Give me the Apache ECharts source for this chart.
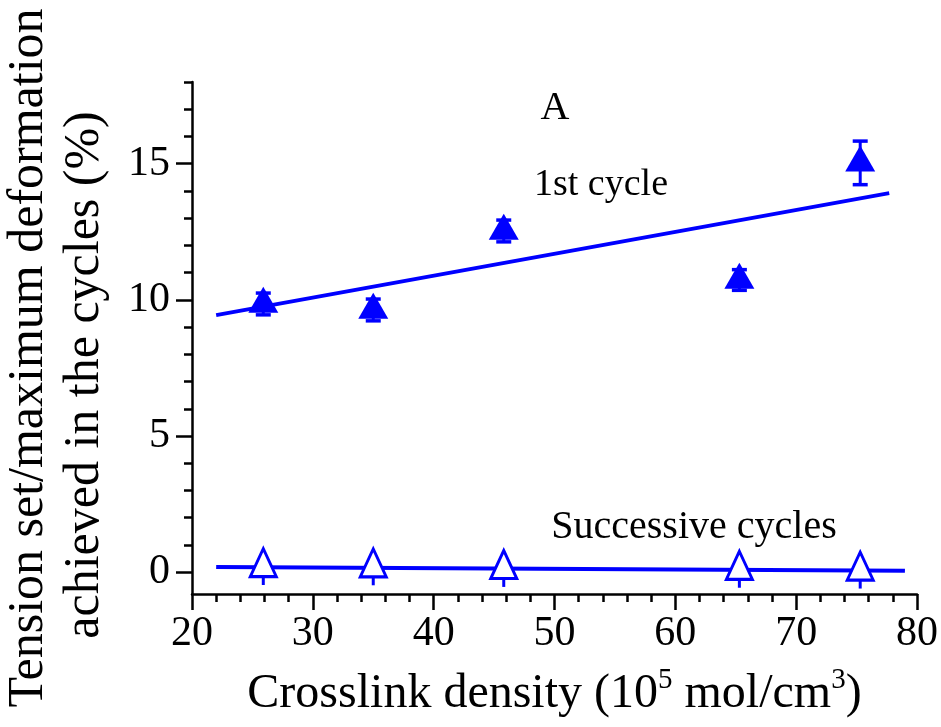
<!DOCTYPE html>
<html>
<head>
<meta charset="utf-8">
<script src="https://cdn.jsdelivr.net/npm/echarts@6/dist/echarts.min.js"></script>
<style>
  html, body { margin: 0; padding: 0; background: #fff; }
  #chart { width: 941px; height: 727px; }
</style>
</head>
<body>
<div id="chart"></div>
<script>
// Crosslink density of the five samples (10^5 mol/cm^3)
const crosslink = [25.9, 35.0, 45.8, 65.3, 75.3];

// Tension set / maximum deformation (%) after the 1st cycle, with errors
const firstCycle = [9.85, 9.63, 12.53, 10.73, 15.03];
const firstCycleErr = [0.4, 0.4, 0.4, 0.38, 0.8];

// Tension set / maximum deformation (%) in the successive cycles, with errors
const successive = [0.18, 0.17, 0.11, 0.08, 0.05];
const successiveErr = [0.65, 0.65, 0.65, 0.65, 0.65];

// Linear fit end points for both data sets
const firstFitX = [22, 77.7];
const firstFitY = [9.44, 13.92];
const succFitX = [22, 79];
const succFitY = [0.19, 0.05];

// Axis ticks
const xMajorTicks = [20, 30, 40, 50, 60, 70, 80];
const yMajorTicks = [0, 5, 10, 15];
const yMinorTicks = [1, 2, 3, 4, 6, 7, 8, 9, 11, 12, 13, 14, 16, 17, 18];

const BLUE = '#0000ff';
const SERIF = 'Liberation Serif';

function pairs(xs, ys) {
  return xs.map((x, i) => [x, ys[i]]);
}

function errorBars(xs, ys, es, capW) {
  return {
    type: 'custom',
    data: xs.map((x, i) => [x, ys[i] - es[i], ys[i] + es[i]]),
    encode: { x: 0, y: [1, 2] },
    z: 3,
    silent: true,
    renderItem: function (params, api) {
      const lo = api.coord([api.value(0), api.value(1)]);
      const hi = api.coord([api.value(0), api.value(2)]);
      const h = capW / 2;
      const children = [
        { type: 'line', shape: { x1: lo[0], y1: lo[1], x2: hi[0], y2: hi[1] }, style: { stroke: BLUE, lineWidth: 3 } }
      ];
      if (capW > 0) {
        children.push(
          { type: 'line', shape: { x1: lo[0] - h, y1: lo[1], x2: lo[0] + h, y2: lo[1] }, style: { stroke: BLUE, lineWidth: 3.5 } },
          { type: 'line', shape: { x1: hi[0] - h, y1: hi[1], x2: hi[0] + h, y2: hi[1] }, style: { stroke: BLUE, lineWidth: 3.5 } }
        );
      }
      return { type: 'group', children: children };
    }
  };
}

function label(text, x, y, size, rot) {
  return {
    type: 'text', x: x, y: y, rotation: rot || 0,
    style: {
      text: text, fontFamily: SERIF, fontSize: size, fill: '#000',
      align: 'center', verticalAlign: 'middle'
    }
  };
}

const chart = echarts.init(document.getElementById('chart'), null, { renderer: 'canvas' });

const option = {
  animation: false,
  backgroundColor: '#fff',
  textStyle: { fontFamily: SERIF },
  grid: { left: 192, right: 21, top: 82, bottom: 124, containLabel: false },
  xAxis: {
    type: 'value',
    min: 20, max: 80, interval: 10,
    name: 'Crosslink density (10{sup|5} mol/cm{sup|3})',
    nameLocation: 'middle',
    nameGap: 72,
    nameTextStyle: {
      fontFamily: SERIF, fontSize: 48, color: '#000', lineHeight: 56,
      rich: {
        sup: { fontFamily: SERIF, fontSize: 29, color: '#000', verticalAlign: 'top', lineHeight: 36 }
      }
    },
    axisLine: { onZero: false, lineStyle: { color: '#000', width: 2.5 } },
    axisTick: { show: true, inside: false, length: 16, lineStyle: { color: '#000', width: 2.5 } },
    minorTick: { show: true, splitNumber: 5, length: 8, lineStyle: { color: '#000', width: 2.5 } },
    axisLabel: { fontFamily: SERIF, fontSize: 42, color: '#000', margin: 19 },
    splitLine: { show: false },
    minorSplitLine: { show: false }
  },
  yAxis: [
    {
      type: 'value',
      min: -0.8, max: 18,
      axisLine: { onZero: false, lineStyle: { color: '#000', width: 2.5 } },
      axisTick: { show: true, inside: false, length: 16, customValues: yMajorTicks, lineStyle: { color: '#000', width: 2.5 } },
      axisLabel: { fontFamily: SERIF, fontSize: 42, color: '#000', margin: 22, customValues: yMajorTicks },
      splitLine: { show: false }
    },
    {
      type: 'value',
      position: 'left',
      min: -0.8, max: 18,
      axisLine: { show: false },
      axisTick: { show: true, inside: false, length: 8, customValues: yMinorTicks, lineStyle: { color: '#000', width: 2.5 } },
      axisLabel: { show: false },
      splitLine: { show: false }
    }
  ],
  series: [
    {
      name: '1st cycle fit',
      type: 'line',
      data: pairs(firstFitX, firstFitY),
      showSymbol: false, symbol: 'none',
      lineStyle: { color: BLUE, width: 4 },
      z: 2, silent: true
    },
    {
      name: 'Successive cycles fit',
      type: 'line',
      data: pairs(succFitX, succFitY),
      showSymbol: false, symbol: 'none',
      lineStyle: { color: BLUE, width: 4 },
      z: 2, silent: true
    },
    errorBars(crosslink, firstCycle, firstCycleErr, 15),
    errorBars(crosslink, successive, successiveErr, 0),
    {
      name: '1st cycle',
      type: 'scatter',
      data: pairs(crosslink, firstCycle),
      symbol: 'triangle',
      symbolSize: [30, 26],
      symbolOffset: [0, -4.3],
      itemStyle: { color: BLUE, opacity: 1 },
      z: 4
    },
    {
      name: 'Successive cycles',
      type: 'scatter',
      data: pairs(crosslink, successive),
      symbol: 'triangle',
      symbolSize: [26, 28],
      symbolOffset: [0, -4.7],
      itemStyle: { color: '#fff', borderColor: BLUE, borderWidth: 3, opacity: 1 },
      z: 4
    }
  ],
  graphic: [
    label('Tension set/maximum deformation', 29, 358, 50, Math.PI / 2),
    label('achieved in the cycles (%)', 85, 375, 50, Math.PI / 2),
    label('A', 555, 108, 40),
    label('1st cycle', 601, 185, 38),
    label('Successive cycles', 694, 527, 40)
  ]
};

chart.setOption(option);
</script>
</body>
</html>
